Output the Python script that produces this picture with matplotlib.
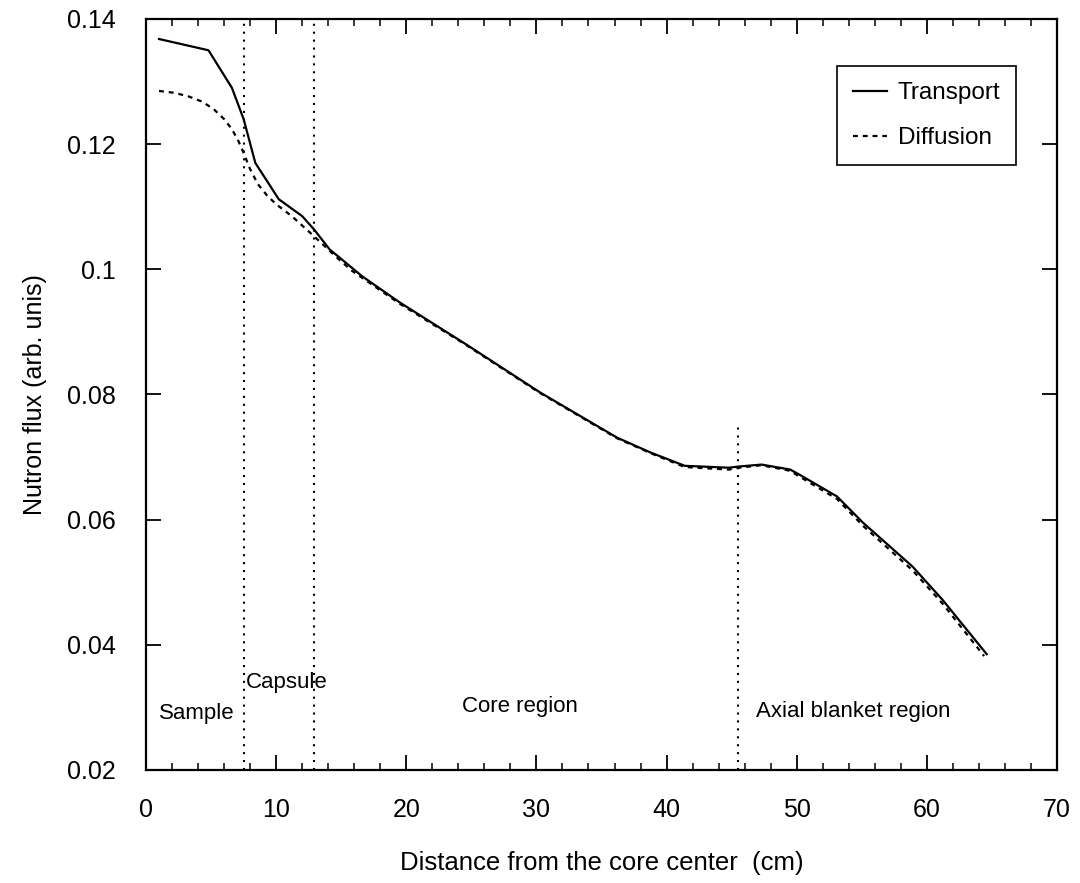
import matplotlib
matplotlib.use('Agg')
import matplotlib.pyplot as plt
from matplotlib.ticker import MultipleLocator

plt.rcParams['font.family'] = ['Liberation Sans', 'DejaVu Sans']

# Data -------------------------------------------------------------------------

tr_x = [1.0, 4.8, 6.6, 7.5, 8.4, 10.2, 12.0, 12.9, 14.1, 16.6, 19.5, 24.6, 30.3,
        36.2, 38.8, 41.4, 44.8, 45.6, 47.3, 49.5, 50.2, 53.1, 55.1, 58.9, 61.2, 64.6]
tr_y = [0.1368, 0.1350, 0.1290, 0.1240, 0.1170, 0.1112, 0.1085, 0.1064, 0.1032,
        0.0989, 0.0947, 0.0880, 0.0803, 0.0731, 0.0707, 0.0686, 0.0683, 0.0685,
        0.0688, 0.0680, 0.0672, 0.0637, 0.0595, 0.0525, 0.0472, 0.0385]

df_x = [1.0, 2.2, 3.3, 4.3, 5.2, 6.0, 6.6, 7.1, 7.5, 8.0, 8.6, 9.3, 10.0, 11.2,
        12.9, 14.6, 15.8, 19.5, 24.6, 30.3, 36.2, 38.8, 41.4, 44.8, 45.6, 47.3,
        49.5, 50.2, 53.1, 55.1, 58.9, 61.2, 64.4]
df_y = [0.1285, 0.1282, 0.1276, 0.1268, 0.1256, 0.1240, 0.1224, 0.1205, 0.1186,
        0.1160, 0.1136, 0.1118, 0.1104, 0.1085, 0.1053, 0.1020, 0.0998, 0.0945,
        0.0879, 0.0802, 0.0730, 0.0706, 0.0684, 0.0680, 0.0683, 0.0687, 0.0678,
        0.0669, 0.0633, 0.0590, 0.0519, 0.0466, 0.0382]

# region boundaries (x, top of the dotted line)
bnd_x = [7.5, 12.9, 45.5]
bnd_top = [0.14, 0.14, 0.0755]

reg_names = ['Sample', 'Capsule', 'Core region', 'Axial blanket region']
reg_x = [1.0, 7.7, 24.3, 46.9]
reg_y = [0.0291, 0.0339, 0.0301, 0.0293]

xlab = 'Distance from the core center  (cm)'
ylab = 'Nutron flux (arb. unis)'
labsz = 18

# Plot -------------------------------------------------------------------------

fig = plt.figure(figsize=(10.8, 8.83), dpi=100)
ax = fig.add_axes([0.1352, 0.128, 0.8435, 0.8505])

l1, = ax.plot(tr_x, tr_y, color='black', lw=1.6, ls='-')
l2, = ax.plot(df_x, df_y, color='black', lw=1.6, ls=(0, (2.2, 2.2)))

ax.vlines(bnd_x, 0.02, bnd_top, colors='black', linestyles=(0, (1, 2.8)), lw=1.5)

for name, x, y in zip(reg_names, reg_x, reg_y):
    ax.text(x, y, name, fontsize=16, ha='left', va='center')

ax.set_xlim(0, 70)
ax.set_ylim(0.02, 0.14)
ax.xaxis.set_major_locator(MultipleLocator(10))
ax.xaxis.set_minor_locator(MultipleLocator(2))
ax.set_yticks([0.02, 0.04, 0.06, 0.08, 0.1, 0.12, 0.14])
ax.set_yticklabels(['0.02', '0.04', '0.06', '0.08', '0.1', '0.12', '0.14'])

ax.tick_params(axis='x', which='both', direction='in', top=True, bottom=True,
               labelsize=labsz, pad=20)
ax.tick_params(axis='y', which='both', direction='in', left=True, right=True,
               labelsize=labsz, pad=22)
ax.tick_params(which='major', length=11, width=1.3)
ax.tick_params(which='minor', length=5, width=1.1)
for s in ax.spines.values():
    s.set_linewidth(1.6)

ax.set_xlabel(xlab, fontsize=18.5, labelpad=21)
ax.set_ylabel(ylab, fontsize=labsz, labelpad=14)

leg = ax.legend([l1, l2], ['Transport', 'Diffusion'], loc='upper right',
                bbox_to_anchor=(0.955, 0.937), borderaxespad=0, fontsize=17.5,
                fancybox=False, edgecolor='black', framealpha=1,
                handlelength=1.4, labelspacing=0.95, borderpad=0.65,
                handletextpad=0.45)
leg.get_frame().set_linewidth(1.2)

fig.savefig('out.png', dpi=100)
